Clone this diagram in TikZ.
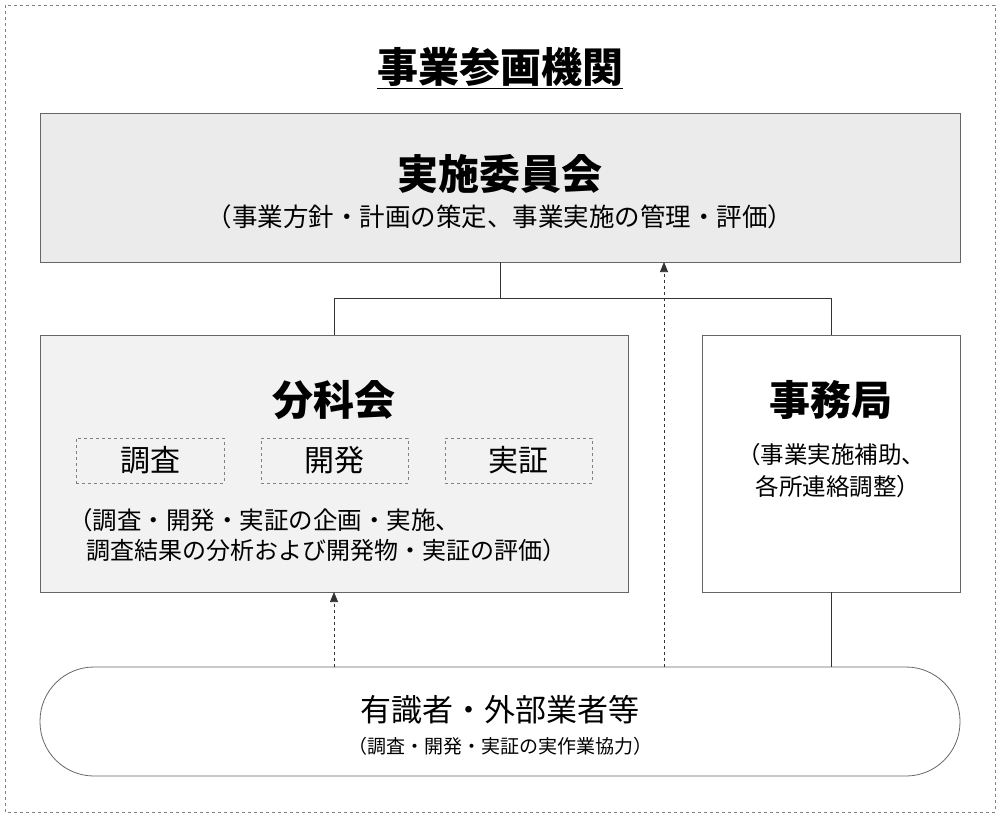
\documentclass[tikz,border=0pt]{standalone}
\usepackage{fontspec}
\setmainfont{Noto Sans CJK JP}
\usetikzlibrary{arrows.meta}
\begin{document}
\begin{tikzpicture}[x=1pt,y=-1pt,
  box/.style={draw=gray!80!black,line width=0.8pt},
  sub/.style={draw=gray,dashed,line width=0.6pt},
  conn/.style={line width=0.7pt,draw=black!80},
  darr/.style={conn,dashed,-{Triangle[length=10pt,width=8pt]}},
  big/.style={font=\fontsize{41}{46}\selectfont\bfseries},
]
\useasboundingbox (0,0) rectangle (1000,817);
\draw[dashed,gray,line width=0.6pt] (5,5) rectangle (995,812);
\node[font=\fontsize{41}{46}\selectfont\bfseries] (title) at (500,68) {\underline{事業参画機関}};
\node[box,fill=black!8,minimum width=920pt,minimum height=149pt,inner sep=0pt] (top) at (500,187.5) {};
\node[big] (topt) at (500,174) {実施委員会};
\node[font=\fontsize{25.5}{30}\selectfont] (tops) at (500,217) {（事業方針・計画の策定、事業実施の管理・評価）};
\node[box,fill=black!5,minimum width=588pt,minimum height=257pt,inner sep=0pt] (left) at (334,463.5) {};
\node[box,fill=white,minimum width=258pt,minimum height=257pt,inner sep=0pt] (right) at (831,463.5) {};
\node[big] (lt) at (334,400) {分科会};
\node[sub,minimum width=148pt,minimum height=45pt,font=\fontsize{30}{34}\selectfont] (s1) at (150,460.5) {調査};
\node[sub,minimum width=147pt,minimum height=45pt,font=\fontsize{30}{34}\selectfont] (s2) at (334.5,460.5) {開発};
\node[sub,minimum width=147pt,minimum height=45pt,font=\fontsize{30}{34}\selectfont] (s3) at (518.5,460.5) {実証};
\node[anchor=west,inner sep=0pt,font=\fontsize{24.5}{28}\selectfont] (l1) at (68,520) {（調査・開発・実証の企画・実施、};
\node[anchor=west,inner sep=0pt,font=\fontsize{24}{28}\selectfont] (l2) at (86,550) {調査結果の分析および開発物・実証の評価）};
\node[big] (rt) at (831,400) {事務局};
\node[font=\fontsize{23.5}{28}\selectfont] (r1) at (831,455) {（事業実施補助、};
\node[font=\fontsize{23.5}{28}\selectfont] (r2) at (838,487) {各所連絡調整）};
\node[box,fill=white,rounded corners=54pt,minimum width=920pt,minimum height=109pt,inner sep=0pt] (bot) at (500,721.5) {};
\node[font=\fontsize{31}{36}\selectfont] (bt) at (500,710) {有識者・外部業者等};
\node[font=\fontsize{19}{22}\selectfont] (bs) at (500,746) {（調査・開発・実証の実作業協力）};
\coordinate (j) at (500,298);
\draw[conn] (top.south) -- (j) -| (left.north);
\draw[conn] (j) -| (right.north);
\draw[conn] (right.south) -- (right.south |- bot.north);
\draw[darr] (334,667) -- (334,592);
\draw[darr] (664,667) -- (664,262);
\end{tikzpicture}
\end{document}
